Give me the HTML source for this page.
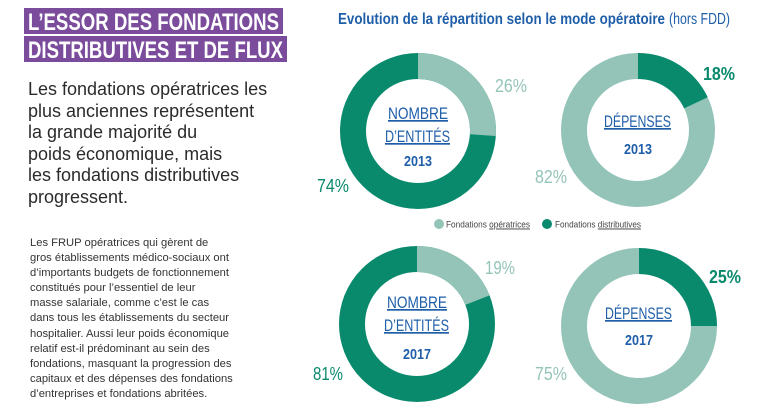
<!DOCTYPE html>
<html><head><meta charset="utf-8"><style>
body{margin:0;width:768px;height:415px;background:#fff;overflow:hidden;position:relative;font-family:"Liberation Sans",sans-serif}
.p{position:absolute;left:28px;top:79px;font-size:18px;line-height:21.6px;color:#2b2b2b}
.s{position:absolute;left:30px;top:236px;font-size:11.2px;line-height:15.1px;color:#333}
</style></head><body>
<div class="p">Les fondations opératrices les<br>plus anciennes représentent<br>la grande majorité du<br>poids économique, mais<br>les fondations distributives<br>progressent.</div>
<div class="s">Les FRUP opératrices qui gèrent de<br>gros établissements médico-sociaux ont<br>d’importants budgets de fonctionnement<br>constitués pour l’essentiel de leur<br>masse salariale, comme c’est le cas<br>dans tous les établissements du secteur<br>hospitalier. Aussi leur poids économique<br>relatif est-il prédominant au sein des<br>fondations, masquant la progression des<br>capitaux et des dépenses des fondations<br>d’entreprises et fondations abritées.</div>
<svg width="768" height="415" style="position:absolute;left:0;top:0" font-family="'Liberation Sans',sans-serif">
<rect x="24" y="8" width="259" height="26" fill="#7b4c9c"/>
<rect x="24" y="36" width="263" height="26" fill="#7b4c9c"/>
<text x="28" y="30" font-size="24" font-weight="bold" fill="#fff" textLength="251" lengthAdjust="spacingAndGlyphs">L’ESSOR DES FONDATIONS</text>
<text x="28" y="58" font-size="24" font-weight="bold" fill="#fff" textLength="255" lengthAdjust="spacingAndGlyphs">DISTRIBUTIVES ET DE FLUX</text>
<text x="338" y="24" font-size="16" font-weight="bold" fill="#1f5ea8" textLength="327" lengthAdjust="spacingAndGlyphs">Evolution de la répartition selon le mode opératoire</text>
<text x="669" y="24" font-size="16" fill="#1f5ea8" textLength="61" lengthAdjust="spacingAndGlyphs">(hors FDD)</text>
<g fill="none" stroke-width="26">
<circle cx="418" cy="131" r="65" stroke="#0a8a6d"/>
<circle cx="418" cy="131" r="65" stroke="#94c4b8" stroke-dasharray="106.2 500" transform="rotate(-90 418 131)"/>
<circle cx="638" cy="130" r="64" stroke="#94c4b8"/>
<circle cx="638" cy="130" r="64" stroke="#0a8a6d" stroke-dasharray="72.4 500" transform="rotate(-90 638 130)"/>
<circle cx="417" cy="324" r="65" stroke="#0a8a6d"/>
<circle cx="417" cy="324" r="65" stroke="#94c4b8" stroke-dasharray="77.6 500" transform="rotate(-90 417 324)"/>
<circle cx="639" cy="326" r="65" stroke="#94c4b8"/>
<circle cx="639" cy="326" r="65" stroke="#0a8a6d" stroke-dasharray="102.1 500" transform="rotate(-90 639 326)"/>
</g>
<g fill="#1f5ea8" font-size="17">
<text x="388" y="119" textLength="60" lengthAdjust="spacingAndGlyphs" text-decoration="underline">NOMBRE</text>
<text x="385" y="142" textLength="65" lengthAdjust="spacingAndGlyphs" text-decoration="underline">D’ENTITÉS</text>
<text x="404" y="166" textLength="28" lengthAdjust="spacingAndGlyphs" font-weight="bold" font-size="15">2013</text>
<text x="604" y="127" textLength="67" lengthAdjust="spacingAndGlyphs" text-decoration="underline">DÉPENSES</text>
<text x="624" y="154" textLength="28" lengthAdjust="spacingAndGlyphs" font-weight="bold" font-size="15">2013</text>
<text x="387" y="308" textLength="60" lengthAdjust="spacingAndGlyphs" text-decoration="underline">NOMBRE</text>
<text x="384" y="331" textLength="65" lengthAdjust="spacingAndGlyphs" text-decoration="underline">D’ENTITÉS</text>
<text x="403" y="359" textLength="28" lengthAdjust="spacingAndGlyphs" font-weight="bold" font-size="15">2017</text>
<text x="605" y="319" textLength="67" lengthAdjust="spacingAndGlyphs" text-decoration="underline">DÉPENSES</text>
<text x="625" y="345" textLength="28" lengthAdjust="spacingAndGlyphs" font-weight="bold" font-size="15">2017</text>
</g>
<g font-size="18">
<text x="495" y="92" fill="#94c4b8" textLength="32" lengthAdjust="spacingAndGlyphs">26%</text>
<text x="317" y="192" fill="#0a8a6d" textLength="32" lengthAdjust="spacingAndGlyphs">74%</text>
<text x="703" y="80" fill="#0a8a6d" font-weight="bold" textLength="32" lengthAdjust="spacingAndGlyphs">18%</text>
<text x="535" y="183" fill="#94c4b8" textLength="32" lengthAdjust="spacingAndGlyphs">82%</text>
<text x="485" y="274" fill="#94c4b8" textLength="30" lengthAdjust="spacingAndGlyphs">19%</text>
<text x="313" y="380" fill="#0a8a6d" textLength="30" lengthAdjust="spacingAndGlyphs">81%</text>
<text x="709" y="283" fill="#0a8a6d" font-weight="bold" textLength="32" lengthAdjust="spacingAndGlyphs">25%</text>
<text x="535" y="380" fill="#94c4b8" textLength="32" lengthAdjust="spacingAndGlyphs">75%</text>
</g>
<circle cx="439" cy="224" r="5" fill="#94c4b8"/>
<text x="446" y="227.5" font-size="9.5" fill="#444" textLength="84" lengthAdjust="spacingAndGlyphs">Fondations <tspan text-decoration="underline">opératrices</tspan></text>
<circle cx="547" cy="224" r="5" fill="#0a8a6d"/>
<text x="555" y="227.5" font-size="9.5" fill="#444" textLength="86" lengthAdjust="spacingAndGlyphs">Fondations <tspan text-decoration="underline">distributives</tspan></text>
</svg>
</body></html>
